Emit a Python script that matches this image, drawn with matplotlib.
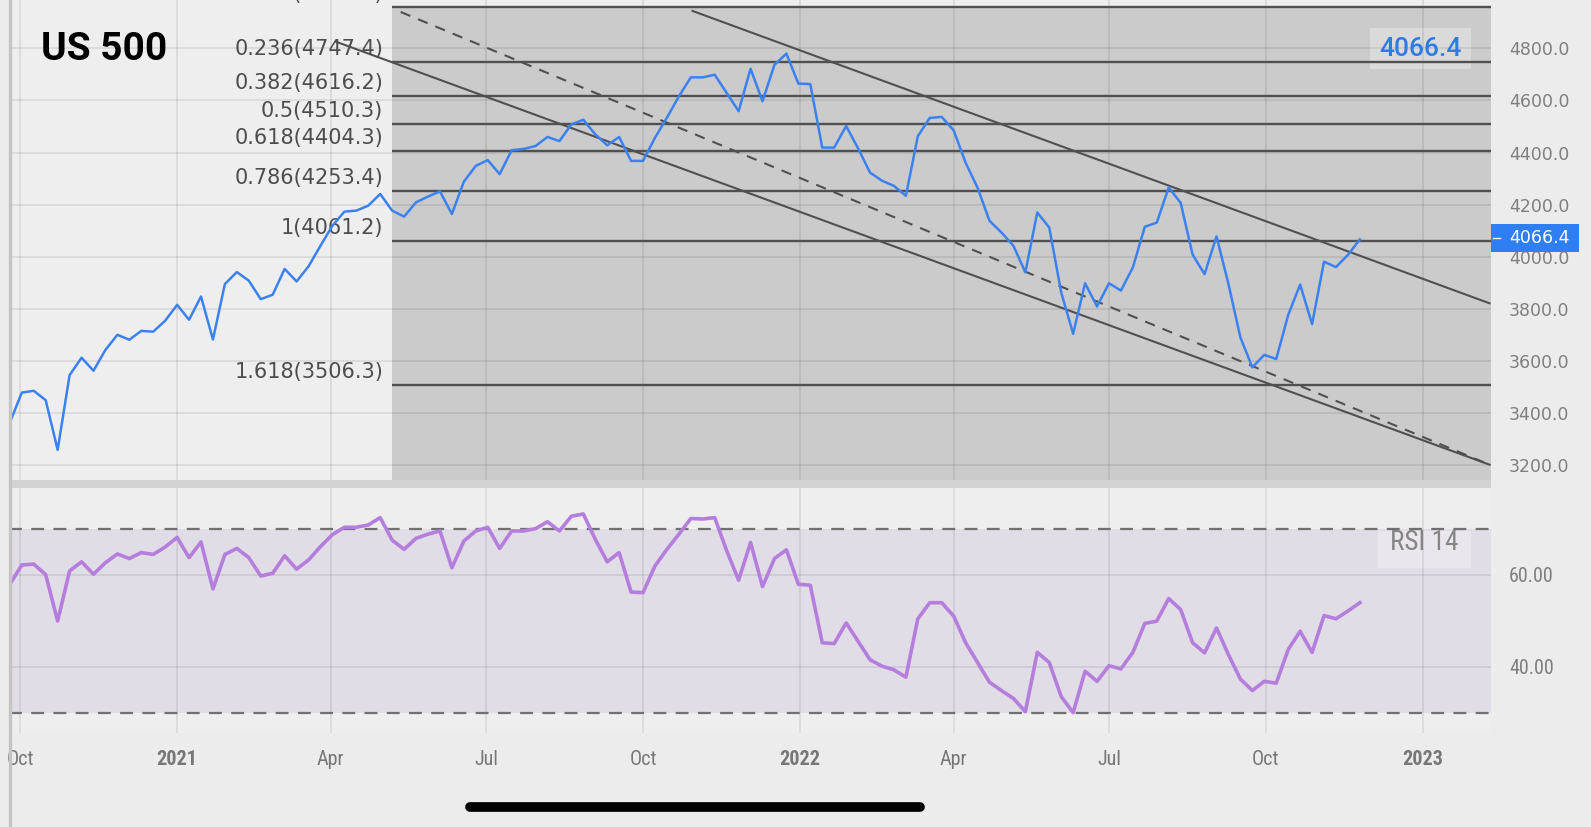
import numpy as np
import pandas as pd
import matplotlib
matplotlib.use('Agg')
import matplotlib.pyplot as plt
from matplotlib import font_manager as fm
from matplotlib.lines import Line2D
from matplotlib.patches import Rectangle

# ---- values (weekly closes + RSI 14) ----
price = [3363, 3478, 3485, 3449, 3258, 3545, 3612, 3562, 3642, 3700,
         3681, 3715, 3712, 3754, 3815, 3758, 3847, 3682, 3895, 3941,
         3908, 3837, 3854, 3953, 3905, 3963, 4042, 4119, 4173, 4177,
         4196, 4241, 4177, 4154, 4209, 4231, 4251, 4164, 4288, 4349,
         4371, 4317, 4409, 4414, 4425, 4460, 4444, 4508, 4526, 4470,
         4428, 4460, 4368, 4368, 4457, 4534, 4616, 4689, 4689, 4699,
         4629, 4559, 4722, 4597, 4737, 4780, 4665, 4663, 4419, 4419,
         4502, 4416, 4323, 4292, 4272, 4234, 4463, 4533, 4537, 4485,
         4361, 4265, 4138, 4093, 4042, 3940, 4170, 4112, 3863, 3704,
         3898, 3809, 3898, 3870, 3959, 4115, 4131, 4266, 4207, 4008,
         3933, 4078, 3895, 3690, 3575, 3623, 3607, 3776, 3893, 3741,
         3981, 3960, 4007, 4066.4]

rsi = [57.9, 62.1, 62.3, 60.0, 49.9, 60.8, 62.8, 60.1, 62.6, 64.5,
       63.5, 64.8, 64.4, 66.0, 68.1, 63.7, 67.1, 56.9, 64.4, 65.7,
       63.7, 59.7, 60.3, 64.1, 61.2, 63.2, 66.1, 68.7, 70.3, 70.3,
       70.8, 72.4, 67.5, 65.5, 67.9, 68.8, 69.5, 61.5, 67.3, 69.5,
       70.3, 65.7, 69.5, 69.5, 70.0, 71.5, 69.5, 72.7, 73.2, 67.7,
       62.8, 64.8, 56.2, 56.1, 61.9, 65.5, 68.8, 72.2, 72.1, 72.4,
       65.2, 58.8, 67.0, 57.4, 63.5, 65.4, 57.9,
       57.7, 45.2, 45.0, 49.5, 45.5, 41.5, 40.1, 39.3, 37.7, 50.4,
       53.9, 53.9, 51.0, 45.2, 40.9, 36.6, 34.8, 33.1, 30.2, 43.1,
       40.9, 33.5, 30.0, 39.0, 36.8, 40.2, 39.5, 43.1, 49.4, 49.9,
       54.8, 52.4, 45.2, 43.0, 48.4, 42.6, 37.3, 34.8, 36.8, 36.4,
       43.7, 47.7, 43.1, 51.1, 50.4, 52.1, 53.9]

first_week = '2020-09-25'
dates = pd.date_range(first_week, periods=len(price), freq='7D')

fib_ratios = [0, 0.236, 0.382, 0.5, 0.618, 0.786, 1, 1.618]
fib_levels = [4959.4, 4747.4, 4616.2, 4510.3, 4404.3, 4253.4, 4061.2, 3506.3]
fib_start = '2021-05-07'

# channel drawn on the chart: (start, end) dates and prices
upper_dates, upper_vals = ['2021-10-30', '2023-02-09'], [4944, 3821]
lower_dates, lower_vals = ['2021-04-04', '2023-02-09'], [4826, 3201]
mid_dates, mid_vals = ['2021-05-12', '2023-02-09'], [4940, 3201]

quarter_dates = ['2020-10-01', '2021-01-01', '2021-04-01', '2021-07-01', '2021-10-01',
                 '2022-01-01', '2022-04-01', '2022-07-01', '2022-10-01', '2023-01-01']
quarter_labels = ['Oct', '2021', 'Apr', 'Jul', 'Oct', '2022', 'Apr', 'Jul', 'Oct', '2023']
price_ticks = [3200, 3400, 3600, 3800, 4000, 4200, 4400, 4600, 4800]
rsi_ticks = [40, 60]
rsi_bounds = [30, 70]
last_price = 4066.4

x_min, x_max = pd.Timestamp('2020-09-24 12:00'), pd.Timestamp('2023-02-09 20:00')

# ---- fonts ----
avail = {f.name for f in fm.fontManager.ttflist}
COND = next((f for f in ['Roboto Condensed', 'Liberation Sans Narrow', 'Open Sans Condensed']
             if f in avail), 'DejaVu Sans')

W, H = 1591, 827
fig = plt.figure(figsize=(W / 100, H / 100), dpi=100, facecolor='#ececec')


def fx(px):
    return px / W


def fy(py):
    return 1 - py / H


def rect(x0, y0, x1, y1):
    return [fx(x0), fy(y1), fx(x1) - fx(x0), fy(y0) - fy(y1)]


def box(x0, y0, x1, y1, color, alpha=1.0, z=3, ax=None):
    r = Rectangle((fx(x0), fy(y1)), fx(x1) - fx(x0), fy(y0) - fy(y1),
                  transform=fig.transFigure, facecolor=color, alpha=alpha, lw=0, zorder=z)
    if ax is None:
        fig.add_artist(r)
    else:
        ax.add_patch(r)


LINE = '#505050'
GRID = dict(color='black', alpha=0.09, lw=1.2)

# ---- price panel ----
ax = fig.add_axes(rect(9, 0, 1491, 480))
ax.set_facecolor('#eeeeee')
for s in ax.spines.values():
    s.set_visible(False)
ax.set_xlim(x_min, x_max)
ax.set_ylim(3142.3, 4986.0)

ax.fill_between([pd.Timestamp(fib_start), x_max], 3000, fib_levels[0],
                color='#cbcbcb', lw=0, zorder=0)
ax.set_yticks(price_ticks)
ax.set_xticks(pd.to_datetime(quarter_dates))
ax.grid(True, **GRID)
ax.yaxis.tick_right()
ax.yaxis.set_major_formatter(lambda v, p: f'{v:.1f}')
ax.tick_params(axis='y', length=0, pad=13, labelsize=12.5, labelcolor='#7f7f7f')
ax.tick_params(axis='x', length=0, labelbottom=False)

ax.hlines(fib_levels, pd.Timestamp(fib_start), x_max, color=LINE, lw=1.7, zorder=2)
for r, v in zip(fib_ratios, fib_levels):
    ax.annotate(f'{r:g}({v:.1f})', xy=(pd.Timestamp(fib_start), v),
                xytext=(-6.5, 5), textcoords='offset points', ha='right', va='baseline',
                fontsize=15, color='#4d4d4d', zorder=3)

ax.plot(pd.to_datetime(upper_dates), upper_vals, color=LINE, lw=1.5, zorder=2)
ax.plot(pd.to_datetime(lower_dates), lower_vals, color=LINE, lw=1.5, zorder=2)
ax.plot(pd.to_datetime(mid_dates), mid_vals, color=LINE, lw=1.5, dashes=(5, 4), zorder=2)
ax.plot(dates, price, color='#3b82f0', lw=1.8, zorder=4)

# last-price badge inside the chart (gridlines show through it)
box(1370, 28, 1471, 69, 'white', alpha=0.3, z=1, ax=ax)
ax.text(fx(1420), fy(49), f'{last_price:.1f}', transform=fig.transFigure,
        fontfamily='Roboto', fontweight='medium', fontsize=19, color='#2f7be6',
        ha='center', va='center', zorder=5)

# ---- RSI panel ----
ax_rsi = fig.add_axes(rect(9, 488, 1491, 733))
ax_rsi.set_facecolor('#eeeeee')
for s in ax_rsi.spines.values():
    s.set_visible(False)
ax_rsi.set_xlim(x_min, x_max)
ax_rsi.set_ylim(25.57, 78.84)
ax_rsi.axhspan(rsi_bounds[0], rsi_bounds[1], color='#e0dde6', lw=0, zorder=0)
for b in rsi_bounds:
    ax_rsi.axhline(b, color='#707070', lw=1.6, dashes=(5.8, 4.2), zorder=2)
ax_rsi.set_yticks(rsi_ticks)
ax_rsi.yaxis.set_major_formatter(lambda v, p: f'{v:.2f}')
ax_rsi.yaxis.tick_right()
ax_rsi.set_xticks(pd.to_datetime(quarter_dates))
ax_rsi.set_xticklabels(quarter_labels)
ax_rsi.grid(True, **GRID)
ax_rsi.tick_params(axis='y', length=0, pad=13, labelsize=14.5, labelcolor='#7f7f7f')
ax_rsi.tick_params(axis='x', length=0, pad=12, labelsize=14.5, labelcolor='#777777')
for lab in ax_rsi.get_yticklabels() + ax_rsi.get_xticklabels():
    lab.set_fontfamily(COND)
for lab in ax_rsi.get_xticklabels():
    if lab.get_text().isdigit():
        lab.set_fontweight('bold')
ax_rsi.plot(dates, rsi, color='#b57edc', lw=2.6, zorder=4)

box(1378, 531, 1471, 568, 'white', alpha=0.3, z=1, ax=ax_rsi)
ax_rsi.text(fx(1424), fy(543), 'RSI 14', transform=fig.transFigure, fontfamily=COND,
            fontsize=19.5, color='#858585', ha='center', va='center', zorder=5)

# ---- overlays ----
box(9, 480, 1491, 488, '#d2d2d2')
fig.text(fx(41), fy(60), 'US 500', fontfamily='Roboto', fontweight='bold',
         fontsize=28, color='black', va='baseline')

box(1491, 224, 1579, 252, '#2f7ef2', z=6)
fig.add_artist(Line2D([fx(1493), fx(1500)], [fy(238)] * 2, color='white', lw=1, zorder=7))
fig.text(fx(1509), fy(238), f'{last_price:.1f}', fontsize=12.5, color='white',
         ha='left', va='center', zorder=7)

fig.add_artist(Line2D([fx(9.5), fx(9.5)], [0, 1], color='#c4c4c4', lw=2.4, zorder=8))
fig.add_artist(Line2D([fx(470), fx(920)], [fy(806.5)] * 2, color='black', lw=7,
                      solid_capstyle='round', zorder=8))

fig.savefig('out.png', dpi=100, facecolor=fig.get_facecolor())
